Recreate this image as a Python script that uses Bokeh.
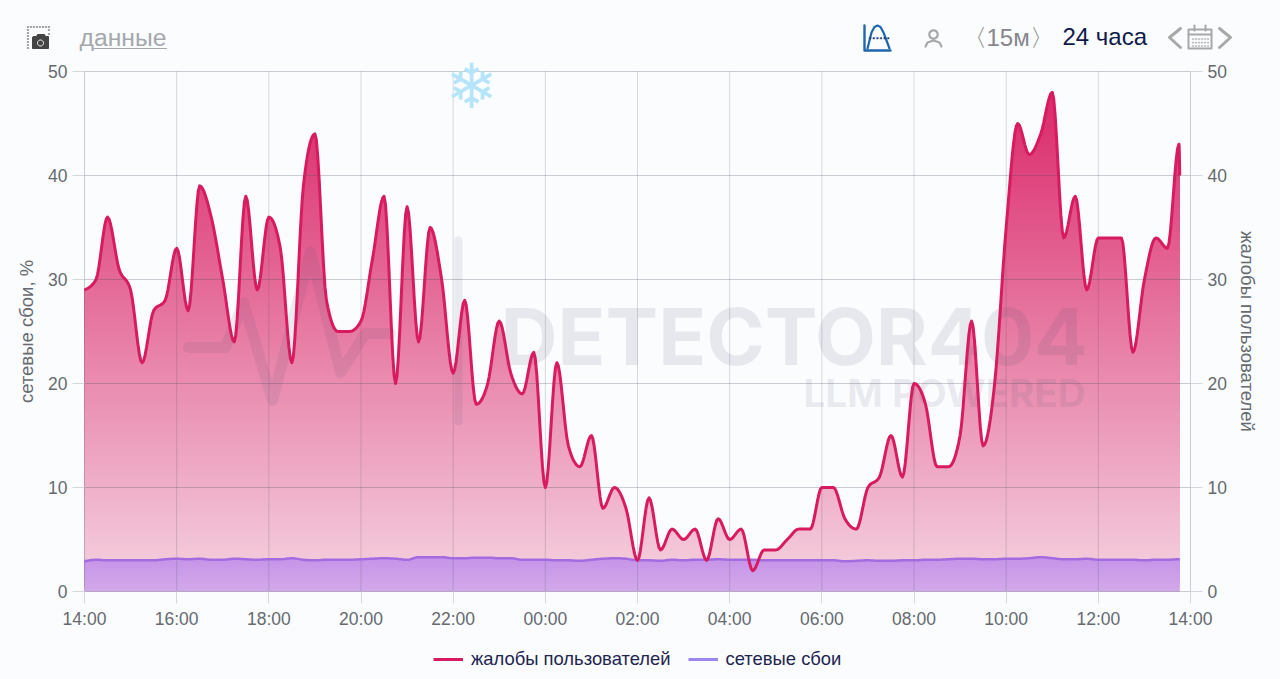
from bokeh.embed import file_html
from bokeh.models import (FixedTicker, Label, Legend, LegendItem, LinearAxis,
                          PolyAnnotation, Range1d)
from bokeh.plotting import figure
from bokeh.resources import INLINE
import numpy as np

# minutes since 14:00, one reading every 15 minutes plus the last late one
minutes = [15 * i for i in range(96)] + [1426]
complaints = [29, 30, 36, 31, 29, 22, 27, 28, 33, 27, 39, 36, 30, 24, 38, 29,
              36, 33, 22, 39, 44, 28, 25, 25, 26, 32, 38, 20, 37, 24, 35, 30,
              21, 28, 18, 20, 26, 21, 19, 23, 10, 22, 14, 12, 15, 8, 10, 8,
              3, 9, 4, 6, 5, 6, 3, 7, 5, 6, 2, 4, 4, 5, 6, 6,
              10, 10, 7, 6, 10, 11, 15, 11, 20, 18, 12, 12, 15, 26, 14, 20,
              35, 45, 42, 44, 48, 34, 38, 29, 34, 34, 34, 23, 30, 34, 33, 43, 40]
network_failures = [2.9, 3.05, 3.0, 3.0, 3.0, 3.0, 3.0, 3.1, 3.15, 3.1, 3.15, 3.05,
                    3.05, 3.15, 3.1, 3.05, 3.1, 3.1, 3.2, 3.05, 3.0, 3.05, 3.05, 3.05,
                    3.1, 3.15, 3.2, 3.15, 3.05, 3.3, 3.3, 3.3, 3.2, 3.2, 3.25, 3.25,
                    3.2, 3.2, 3.05, 3.05, 3.05, 3.0, 3.0, 2.95, 3.05, 3.15, 3.2, 3.15,
                    3.0, 3.0, 2.95, 3.05, 3.0, 3.05, 3.05, 3.1, 3.05, 3.05, 3.05, 3.0,
                    3.0, 3.0, 3.0, 3.0, 3.0, 3.0, 2.9, 2.95, 3.0, 2.95, 2.95, 3.0,
                    3.0, 3.05, 3.05, 3.1, 3.15, 3.15, 3.1, 3.1, 3.15, 3.15, 3.2, 3.3,
                    3.2, 3.1, 3.1, 3.15, 3.05, 3.05, 3.05, 3.05, 3.0, 3.05, 3.05, 3.1, 3.1]
x_ticks = [0, 120, 240, 360, 480, 600, 720, 840, 960, 1080, 1200, 1320, 1440]
x_labels = ["14:00", "16:00", "18:00", "20:00", "22:00", "00:00", "02:00",
            "04:00", "06:00", "08:00", "10:00", "12:00", "14:00"]
y_ticks = [0, 10, 20, 30, 40, 50]

BG_RGB = (251, 252, 254)
RED_RGB = (216, 27, 96)
VIOLET_RGB = (165, 110, 245)
BG = "#fbfcfe"
RED = "#d81b60"
GREY = "#666a70"
FONT = "Liberation Sans"

# the frame fills the canvas so the header row and legend are not clipped:
# 0..1440 min spans px 84..1190, 0..50 spans px 591..71
W, H = 1280, 679
MIN_PER_PX = 1440 / (1190 - 84)
PX_PER_UNIT = (591 - 71) / 50


def monotone_curve(x, y, steps=8):
    # same cubic the chart's smoothed line uses; only the drawn path, not data
    x, y = np.array(x, float), np.array(y, float)
    h = np.diff(x)
    s = np.diff(y) / h
    t = np.zeros(len(x))
    p = (s[:-1] * h[1:] + s[1:] * h[:-1]) / (h[:-1] + h[1:])
    t[1:-1] = (np.sign(s[:-1]) + np.sign(s[1:])) * np.minimum.reduce(
        [abs(s[:-1]), abs(s[1:]), 0.5 * abs(p)])
    t[0] = (3 * s[0] - t[1]) / 2
    t[-1] = (3 * s[-1] - t[-2]) / 2
    xs, ys = [], []
    for i in range(len(h)):
        u = np.arange(steps) / steps
        xs.append(x[i] + u * h[i])
        ys.append((2 * u**3 - 3 * u**2 + 1) * y[i] + (u**3 - 2 * u**2 + u) * h[i] * t[i]
                  + (-2 * u**3 + 3 * u**2) * y[i + 1] + (u**3 - u**2) * h[i] * t[i + 1])
    return np.append(np.concatenate(xs), x[-1]), np.append(np.concatenate(ys), y[-1])


def mix(c0, c1, a):
    return tuple((1 - a) * u + a * v for u, v in zip(c0, c1))


def pink_at(level):
    return mix(BG_RGB, RED_RGB, 0.18 + 0.76 * level / 48)


def violet_at(level):
    return mix(pink_at(level), VIOLET_RGB, 0.42 + 0.16 * level / 3.3)


def gradient_area(p, xs, ys, top, color_at, band_px=4):
    # opaque layers painted bottom up, each from its level to the curve
    step = band_px / PX_PER_UNIT
    for k in range(int(np.ceil(top / step))):
        low = k * step
        r, g, b = color_at(low + step / 2)
        p.varea(xs, np.minimum(low, ys), ys, fill_color=f"#{round(r):02x}{round(g):02x}{round(b):02x}")


def shape(p, xs, ys, color, width=2.0, fill=None, dash="solid", level="annotation", alpha=1.0):
    p.add_layout(PolyAnnotation(xs=list(xs), ys=list(ys),
                                xs_units="canvas", ys_units="canvas", level=level,
                                line_color=color, line_width=width, line_dash=dash, line_alpha=alpha,
                                line_join="round", line_cap="round",
                                fill_color=fill, fill_alpha=1 if fill else 0))


def polyline(p, pts, color, width=2.0, level="annotation", alpha=1.0):
    # closed on itself backwards so the stroke stays open-looking
    path = pts + pts[-2:0:-1]
    shape(p, [a for a, b in path], [b for a, b in path], color, width, None, "solid", level, alpha)


def dots(p, x0, y0, x1, y1, n, color, size=1.0):
    for i in range(n):
        cx = x0 + (x1 - x0) * i / (n - 1)
        cy = y0 + (y1 - y0) * i / (n - 1)
        shape(p, [cx, cx + size, cx + size, cx], [cy, cy, cy + size, cy + size], color, 0.3, color)


def ring(cx, cy, r, n=28):
    a = np.linspace(0, 2 * np.pi, n, endpoint=False)
    return list(cx + r * np.cos(a)), list(cy + r * np.sin(a))


def text(p, x, y, s, size, color, align="left", style="normal", family=FONT, level="annotation", alpha=1.0):
    p.add_layout(Label(x=x, y=y, x_units="canvas", y_units="canvas", text=s,
                       text_font=family, text_font_size=f"{size}px", text_color=color,
                       text_align=align, text_baseline="middle", text_font_style=style,
                       text_alpha=alpha, level=level))


y_top = 591 / PX_PER_UNIT
p = figure(width=W, height=H, output_backend="svg", toolbar_location=None,
           x_range=Range1d(-84 * MIN_PER_PX, (W - 84) * MIN_PER_PX),
           y_range=Range1d(y_top - H / PX_PER_UNIT, y_top),
           min_border=0, background_fill_color=BG, border_fill_color=BG, outline_line_color=None)
p.grid.visible = False

xs, ys = monotone_curve(minutes, complaints)
gradient_area(p, xs, ys, 48, pink_at)
xv, yv = monotone_curve(minutes, network_failures)
gradient_area(p, xv, yv, 3.3, violet_at)

# grid stops at the plot box and shows through the areas
x_grid_alpha = [0.28] + [0.2] * (len(x_ticks) - 2) + [0.28]
p.segment(x_ticks, 0, x_ticks, 50, line_color="#464b5f", line_alpha=x_grid_alpha, line_width=1)
p.segment(0, y_ticks, 1440, y_ticks, line_color="#464b5f", line_alpha=0.28, line_width=1)

p.xaxis.fixed_location = 0
p.yaxis.fixed_location = 0
p.xaxis.bounds = (0, 1440)
p.yaxis.bounds = (0, 50)
p.xaxis.ticker = FixedTicker(ticks=x_ticks)
p.xaxis.major_label_overrides = dict(zip(x_ticks, x_labels))
p.yaxis.ticker = FixedTicker(ticks=y_ticks)
p.add_layout(LinearAxis(ticker=FixedTicker(ticks=y_ticks), fixed_location=1440, bounds=(0, 50)), "right")

for ax in p.axis:
    ax.axis_line_color = None
    ax.major_tick_line_color = "#d5d7dc"
    ax.major_tick_in = 0
    ax.major_tick_out = 12
    ax.minor_tick_line_color = None
    ax.major_label_text_font = FONT
    ax.major_label_text_font_size = "17.5px"
    ax.major_label_text_color = GREY
    ax.major_label_standoff = 5
    ax.axis_label_text_font = FONT
    ax.axis_label_text_font_size = "18.5px"
    ax.axis_label_text_font_style = "normal"
    ax.axis_label_text_color = GREY
p.yaxis[0].axis_label = "сетевые сбои, %"
p.yaxis[1].axis_label = "жалобы пользователей"
p.yaxis[0].axis_label_standoff = 8
p.yaxis[1].axis_label_standoff = 7

# watermark, see-through over the areas
WM = "#3c4664"
text(p, 500, 335, "DETECTOR404", 79, WM, style="bold", family="Inter", level="guide", alpha=0.11)
text(p, 1085, 392, "LLM POWERED", 38.5, WM, align="right", style="bold", family="Inter", level="guide", alpha=0.11)
polyline(p, [(188, 347), (225, 347), (243, 302), (272, 400), (310, 252),
             (340, 372), (365, 333), (390, 333)], WM, 11, level="guide", alpha=0.09)
polyline(p, [(458, 240), (458, 421)], WM, 8, level="guide", alpha=0.09)

p.line(xv, yv, line_color="#a26ce0", line_width=2.5, line_join="round", level="annotation")
p.line(xs, ys, line_color=RED, line_width=3, line_join="round", level="annotation")

# one-point renderers carry the legend swatches
red_key = p.line(minutes[:1], complaints[:1], line_color=RED, line_width=3)
violet_key = p.line(minutes[:1], network_failures[:1], line_color="#9b87f0", line_width=3)
legend = Legend(items=[LegendItem(label="жалобы пользователей", renderers=[red_key]),
                       LegendItem(label="сетевые сбои", renderers=[violet_key])],
                orientation="horizontal", location=(433, 9), background_fill_alpha=0,
                border_line_color=None, padding=0, margin=0, spacing=17, label_standoff=8,
                glyph_width=30, glyph_height=20, label_text_font=FONT,
                label_text_font_size="18.4px", label_text_color="#1d2550")
p.add_layout(legend, "center")

text(p, 471, 86, "❄", 62, "#b5e4fb", align="center", family="DejaVu Sans")

# header row
text(p, 79, 37, "данные", 24.7, "#a5a7ad")
polyline(p, [(93, 48), (166, 48)], "#a5a7ad", 1.2)
text(p, 962, 37, "〈15м〉", 24, "#85878c")
text(p, 1062, 36, "24 часа", 24, "#101a4a")

# camera icon
dots(p, 27, 26, 48, 26, 8, "#444")
dots(p, 27, 29, 27, 47, 7, "#444")
dots(p, 48, 29, 48, 33, 2, "#444")
shape(p, [33, 36, 37, 44, 45, 48, 48, 32, 32], [36, 36, 34, 34, 36, 36, 48, 48, 37], "#444", 1, "#444")
hx, hy = ring(40, 42.5, 3)
shape(p, hx, hy, "#ffffff", 1, "#444")

# chart mode icon
BLUE = "#1f66ad"
polyline(p, [(864, 25), (864, 50), (890, 50)], BLUE, 2.4)
polyline(p, [(867, 48), (869, 40), (871, 32), (874, 26.5), (877, 25), (880, 26.5),
             (883, 32), (886, 40), (889, 48)], BLUE, 2.2)
dots(p, 869, 37, 887, 37, 6, "#1a3a70", 1.6)

# person icon
hx, hy = ring(933, 34, 4.2)
shape(p, hx, hy, "#a8a8a8", 2.2)
polyline(p, [(925, 46), (927, 42), (933, 40), (939, 42), (941, 46)], "#a8a8a8", 2.2)

# date picker
polyline(p, [(1180, 28), (1169, 37), (1180, 47)], "#a8a8a8", 3)
polyline(p, [(1219, 28), (1230, 37), (1219, 47)], "#a8a8a8", 3)
shape(p, [1188, 1211, 1211, 1188], [29, 29, 48, 48], "#a8a8a8", 2)
polyline(p, [(1188, 34), (1211, 34)], "#a8a8a8", 2)
polyline(p, [(1194, 25), (1194, 30)], "#a8a8a8", 2)
polyline(p, [(1205, 25), (1205, 30)], "#a8a8a8", 2)
for row in (38, 41.5, 45):
    dots(p, 1192, row, 1207, row, 6, "#a8a8a8", 1.2)

open("out.html", "w").write(file_html(p, INLINE))
